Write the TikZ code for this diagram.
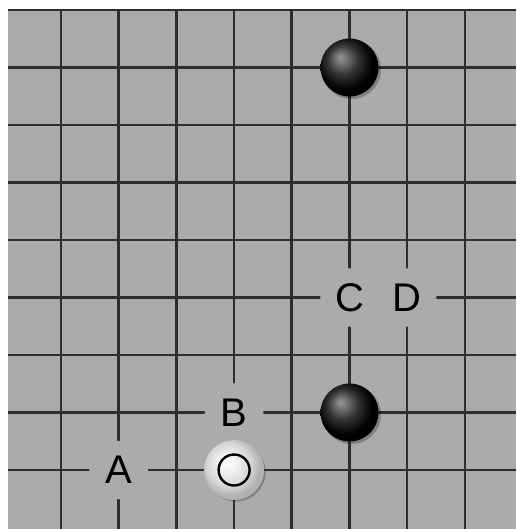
\documentclass[tikz,border=0pt]{standalone}
\usepackage{fontspec}
\setmainfont{Liberation Sans}
\definecolor{board}{HTML}{ABABAB}
\definecolor{gridline}{HTML}{2E2E2E}
\pgfdeclareradialshading{blackstone}{\pgfpoint{-8bp}{9bp}}{color(0bp)=(black!42);color(4bp)=(black!52);color(13bp)=(black!80);color(22bp)=(black!97);color(25bp)=(black);color(50bp)=(black)}
\pgfdeclareradialshading{whitestone}{\pgfpoint{-7bp}{7bp}}{color(0bp)=(white);color(7bp)=(black!5);color(18bp)=(black!16);color(25bp)=(black!30);color(50bp)=(black!30)}

\begin{document}
\begin{tikzpicture}[x=57.7pt,y=-57.5pt,line width=2.6pt,
 letter/.style={circle,fill=board,minimum size=58.5pt,inner sep=0pt,font=\fontsize{40}{40}\selectfont},
 bstone/.style={circle,minimum size=58pt,inner sep=0pt,shading=blackstone},
 wstone/.style={circle,minimum size=60pt,inner sep=0pt,shading=whitestone}]
\useasboundingbox (-0.057,-0.174) rectangle (8.886,9.026);
\fill[board] (0.082,-0.017) rectangle (8.886,9.026);
% grid
\foreach \r in {0,...,8}
 \draw[gridline] (0.082,\r)--(8.886,\r);
\foreach \c in {1,...,8}
 \draw[gridline] (\c,0)--(\c,9.026);
% letters
\foreach \c/\r/\lab in {2/8/A,4/7/B,6/5/C,7/5/D}
 \node[letter] (\lab) at (\c,\r) {\lab};
% stone shadows
\foreach \c/\r in {6/1,6/7,4/8}
 \fill[black,opacity=.25] ([shift={(2pt,-2pt)}]\c,\r) circle (29.5pt);
% stones
\node[bstone] (b1) at (6,1) {};
\node[bstone] (b2) at (6,7) {};
\node[wstone] (w1) at (4,8) {};
\draw[black,line width=2.4pt] (w1.center) circle (15.5pt);
\end{tikzpicture}
\end{document}
